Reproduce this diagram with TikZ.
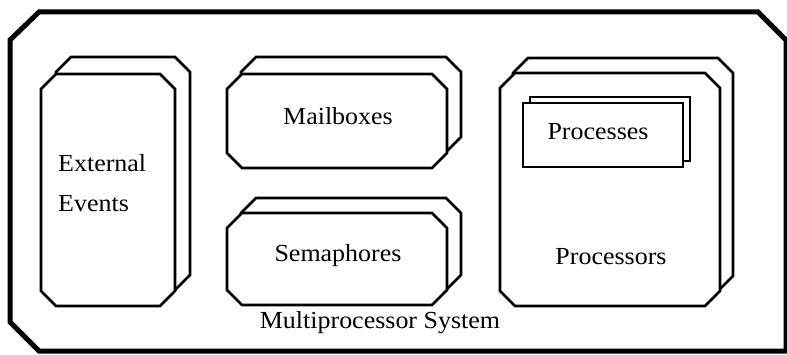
\documentclass[tikz,border=0pt]{standalone}
\usepackage{fontspec}
\setmainfont{Liberation Serif}[FakeStretch=1.06]
\begin{document}
\begin{tikzpicture}[x=1pt,y=-1pt,
  frameline/.style={line width=5pt,line join=miter},
  boxline/.style={line width=2.8pt,fill=white,line join=miter},
  procline/.style={line width=2.4pt,fill=white},
  lbl/.style={font=\fontsize{24.5}{36}\selectfont,inner sep=0pt,anchor=base}]
\useasboundingbox (0,0) rectangle (787,355);
% chamfered box: left, top, right, bottom, chamfer
\newcommand\octbox[5]{%
  \draw[boxline] (#1+#5,#2) -- (#3-#5,#2) -- (#3,#2+#5) -- (#3,#4-#5)
    -- (#3-#5,#4) -- (#1+#5,#4) -- (#1,#4-#5) -- (#1,#2+#5) -- cycle;}
% outer system frame
\draw[frameline] (39,12) -- (758,12) -- (786,40) -- (786,351)
  -- (39,351) -- (10,322) -- (10,40) -- cycle;
% external events (back copy, then front)
\octbox{56}{57}{190}{290}{15}
\octbox{41}{74}{175}{306}{15}
% mailboxes
\octbox{241}{57}{461}{152}{15}
\octbox{227}{74}{447}{168}{15}
% semaphores
\octbox{241}{198}{461}{290}{15}
\octbox{227}{213}{447}{305}{15}
% processors
\octbox{513}{58}{733}{291}{15}
\octbox{500}{73}{720}{306}{15}
% processes stacked inside a processor
\draw[procline] (530,97) rectangle (690,161);
\draw[procline] (523,103) rectangle (683,167);
% labels
\node[lbl,anchor=base west] (ext1) at (58,172) {External};
\node[lbl,anchor=base west] (ext2) at (58,212) {Events};
\node[lbl] (mail) at (338,125) {Mailboxes};
\node[lbl] (sema) at (338,262) {Semaphores};
\node[lbl] (pses) at (598,140) {Processes};
\node[lbl] (psor) at (611,265) {Processors};
\node[lbl] (sys) at (380,328) {Multiprocessor System};
\end{tikzpicture}
\end{document}
